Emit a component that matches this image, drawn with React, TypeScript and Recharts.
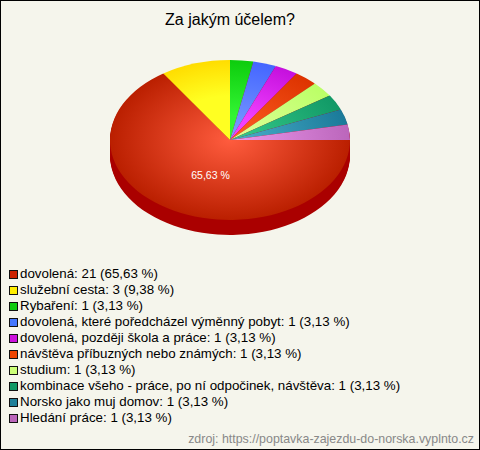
import React from "react";
import { PieChart, Pie, Sector, Legend } from "recharts";

const categories = [
  "dovolená",
  "služební cesta",
  "Rybaření",
  "dovolená, které poředcházel výměnný pobyt",
  "dovolená, později škola a práce",
  "návštěva příbuzných nebo známých",
  "studium",
  "kombinace všeho - práce, po ní odpočinek, návštěva",
  "Norsko jako muj domov",
  "Hledání práce",
];
const counts = [21, 3, 1, 1, 1, 1, 1, 1, 1, 1];
const percents = ["65,63", "9,38", "3,13", "3,13", "3,13", "3,13", "3,13", "3,13", "3,13", "3,13"];
const innerColors = ["#ff5c3e", "#ffff22", "#33f533", "#7f9fff", "#f040ff", "#ff5f25", "#e0ff9c", "#38cc8c", "#4db0cc", "#ee99ee"];
const outerColors = ["#ba1f00", "#ffdd00", "#0dcc0d", "#4466ff", "#c510dd", "#dd3300", "#bbff66", "#119966", "#1a7a99", "#bb66bb"];
const legendColors = ["#cc2200", "#ffee00", "#11cc11", "#4477ff", "#cc11dd", "#ee4400", "#ccff77", "#119966", "#1f8099", "#bb66bb"];
const innerStops = ["0%", "55%", "30%", "0%", "30%", "0%", "0%", "0%", "0%", "0%"];

const title = "Za jakým účelem?";
const source = "zdroj: https://poptavka-zajezdu-do-norska.vyplnto.cz";

const chartData = categories.map((name, i) => ({
  name,
  value: counts[i],
  percent: percents[i],
  fill: `url(#slice${i})`,
  legendColor: legendColors[i],
}));

const FONT = "'Liberation Sans', Arial, sans-serif";
const SQUASH = 2 / 3;
const CX = 230;
const CY = 140;
const R = 120;
const DEPTH = 15;
const depthLayers = Array.from({ length: DEPTH }, (_, i) => i + 1);
const RADIAN = Math.PI / 180;

const squash = (cy: number, dy = 0) =>
  `translate(0 ${cy + dy}) scale(1 ${SQUASH}) translate(0 ${-cy})`;

const TopSlice = (props: any) => (
  <g transform={squash(props.cy)}>
    <Sector {...props} stroke="none" />
  </g>
);

const SideSlice = (props: any) => (
  <g>
    {depthLayers.map((d) => (
      <g key={d} transform={squash(props.cy, d)}>
        <Sector {...props} fill="#aa0000" stroke="none" />
      </g>
    ))}
  </g>
);

const renderLabel = (props: any) => {
  if (props.index !== 0) return null;
  const x = props.cx + Math.cos(-RADIAN * props.midAngle) * props.outerRadius * 0.345;
  const y = props.cy + Math.sin(-RADIAN * props.midAngle) * props.outerRadius * 0.5 * SQUASH;
  return (
    <text x={x} y={y} fill="#ffffff" fontFamily={FONT} fontSize={10.5} textAnchor="middle" dominantBaseline="central">
      {`${props.payload.percent} %`}
    </text>
  );
};

const LegendList = () => (
  <div style={{ fontFamily: FONT, fontSize: 13.33, color: "#000" }}>
    {chartData.map((d) => (
      <div key={d.name} style={{ height: 16, lineHeight: "16px", whiteSpace: "nowrap", display: "flex", alignItems: "center" }}>
        <span
          style={{
            display: "inline-block",
            width: 7,
            height: 7,
            border: "1px solid #111",
            background: d.legendColor,
            marginRight: 2,
            flex: "none",
          }}
        />
        <span>{`${d.name}: ${d.value} (${d.percent} %)`}</span>
      </div>
    ))}
  </div>
);

export default function App() {
  return (
    <div
      style={{
        position: "absolute",
        left: 0,
        top: 0,
        width: 480,
        height: 450,
        boxSizing: "border-box",
        border: "1px solid #000",
        background: "#f5f5ec",
        overflow: "hidden",
      }}
    >
      <div style={{ position: "absolute", left: -1, top: -1 }}>
        <PieChart width={480} height={450} margin={{ top: 0, right: 0, bottom: 0, left: 0 }}>
          <defs>
            {categories.map((_, i) => (
              <radialGradient key={i} id={`slice${i}`} gradientUnits="userSpaceOnUse" cx={CX} cy={CY} r={R} fx={CX} fy={CY}>
                <stop offset={innerStops[i]} stopColor={innerColors[i]} />
                <stop offset="100%" stopColor={outerColors[i]} />
              </radialGradient>
            ))}
          </defs>
          <Pie
            data={chartData}
            dataKey="value"
            nameKey="name"
            cx={CX}
            cy={CY}
            outerRadius={R}
            startAngle={0}
            endAngle={-360}
            legendType="none"
            shape={SideSlice}
            isAnimationActive={false}
          />
          <Pie
            data={chartData}
            dataKey="value"
            nameKey="name"
            cx={CX}
            cy={CY}
            outerRadius={R}
            startAngle={0}
            endAngle={-360}
            shape={TopSlice}
            label={renderLabel}
            labelLine={false}
            isAnimationActive={false}
          />
          <Legend
            content={<LegendList />}
            wrapperStyle={{ position: "absolute", left: 9, top: 266, width: 465, bottom: "auto" }}
          />
          <text x={230} y={25} textAnchor="middle" fontFamily={FONT} fontSize={16} fill="#000">
            {title}
          </text>
          <text x={474} y={443} textAnchor="end" fontFamily={FONT} fontSize={12.4} fill="#888888">
            {source}
          </text>
        </PieChart>
      </div>
    </div>
  );
}
